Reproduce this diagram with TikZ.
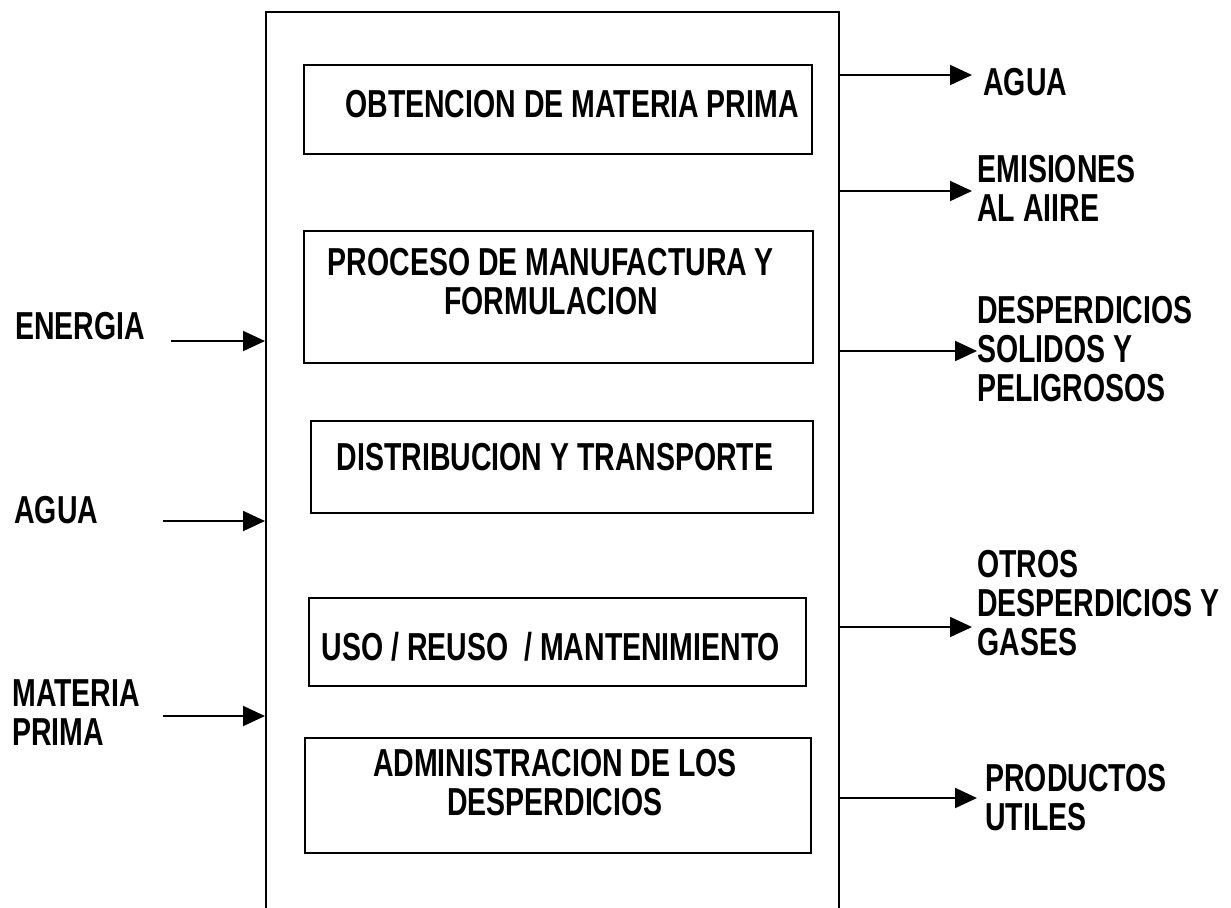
\documentclass[tikz,border=0pt]{standalone}
\usepackage{fontspec}
\setmainfont{Liberation Sans}[FakeStretch=0.73]
\usetikzlibrary{arrows.meta,fit}

\newcommand{\rotfont}{\bfseries\fontsize{19.5}{19.5}\selectfont}

\tikzset{
  caja/.style={draw, line width=1pt, inner sep=0pt},
  rotulo/.style={inner sep=0pt, align=center, font=\rotfont},
  lado/.style={inner sep=0pt, align=left, anchor=west, font=\rotfont},
  flujo/.style={line width=1pt, -{Triangle[length=11pt,width=10pt]}},
}

\begin{document}
\begin{tikzpicture}[x=0.5pt,y=-0.5pt]
\useasboundingbox (0,0) rectangle (1231,907);

% marco general (abierto por abajo)
\node[caja, fit={(266,12) (839,960)}] (marco) {};

% etapas
\node[caja, fit={(304,65) (812,154)}] (obtencion) {};
\node[caja, fit={(304,231) (813,363)}] (proceso) {};
\node[caja, fit={(311,421) (813,513)}] (distribucion) {};
\node[caja, fit={(309,598) (806,686)}] (uso) {};
\node[caja, fit={(305,738) (811,853)}] (admin) {};

\node[rotulo] (tobtencion) at (572,104) {OBTENCION DE MATERIA PRIMA};
\node[rotulo] (tproceso) at (551,282) {PROCESO DE MANUFACTURA Y\\FORMULACION};
\node[rotulo] (tdistribucion) at (555,457) {DISTRIBUCION Y TRANSPORTE};
\node[rotulo] (tuso) at (551,647) {USO / REUSO~~/ MANTENIMIENTO};
\node[rotulo] (tadmin) at (555,783) {ADMINISTRACION DE LOS\\DESPERDICIOS};

% entradas
\node[lado] (lenergia) at (15,326) {ENERGIA};
\node[lado] (lagua) at (14,510) {AGUA};
\node[lado] (lmateria) at (12,713) {MATERIA\\PRIMA};

\coordinate (eEnergia) at (171,341);
\coordinate (eAgua) at (163,521);
\coordinate (eMateria) at (163,716);
\draw[flujo] (eEnergia) -- (eEnergia -| marco.west);
\draw[flujo] (eAgua) -- (eAgua -| marco.west);
\draw[flujo] (eMateria) -- (eMateria -| marco.west);

% salidas
\node[lado] (ragua) at (983,82) {AGUA};
\node[lado] (raire) at (977,188) {EMISIONES\\AL AIIRE};
\node[lado] (rsolidos) at (977,349) {DESPERDICIOS\\SOLIDOS Y\\PELIGROSOS};
\node[lado] (rgases) at (977,603) {OTROS\\DESPERDICIOS Y\\GASES};
\node[lado] (rutiles) at (985,798) {PRODUCTOS\\UTILES};

\coordinate (sAgua) at (972,75);
\coordinate (sAire) at (972,191);
\coordinate (sSolidos) at (977,351);
\coordinate (sGases) at (972,627);
\coordinate (sUtiles) at (977,798);
\draw[flujo] (marco.east |- sAgua) -- (sAgua);
\draw[flujo] (marco.east |- sAire) -- (sAire);
\draw[flujo] (marco.east |- sSolidos) -- (sSolidos);
\draw[flujo] (marco.east |- sGases) -- (sGases);
\draw[flujo] (marco.east |- sUtiles) -- (sUtiles);
\end{tikzpicture}
\end{document}
